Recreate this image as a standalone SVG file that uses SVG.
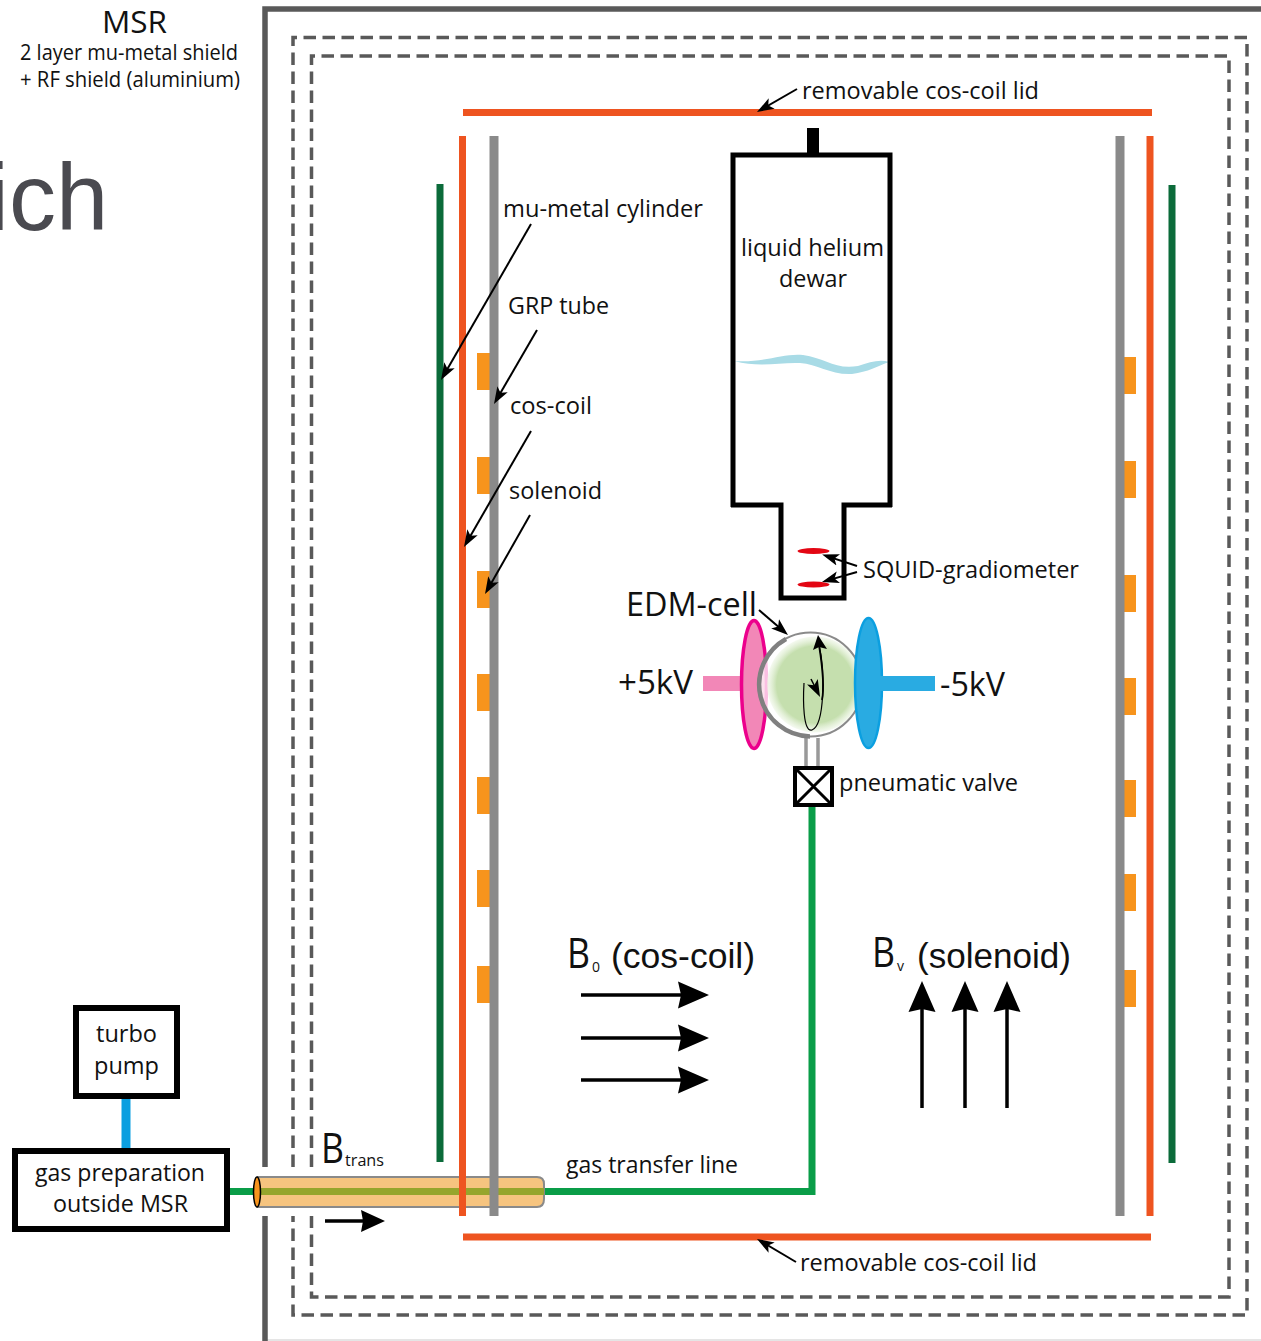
<svg xmlns="http://www.w3.org/2000/svg" width="1261" height="1341" viewBox="0 0 1261 1341">
<defs>
<marker id="ah" markerUnits="userSpaceOnUse" markerWidth="18" markerHeight="14" refX="12" refY="7" orient="auto"><path d="M0 1L17 7L0 13L4 7Z" fill="#000"/></marker>
<marker id="big" markerUnits="userSpaceOnUse" markerWidth="32" markerHeight="28" refX="16" refY="14" orient="auto"><path d="M0 0.500L31 14L0 27.500L3 14Z" fill="#000"/></marker>
<marker id="med" markerUnits="userSpaceOnUse" markerWidth="26" markerHeight="24" refX="12" refY="12" orient="auto"><path d="M0 1L24 12L0 23L2 12Z" fill="#000"/></marker>
<radialGradient id="cell"><stop offset="0" stop-color="#c5dfae"/><stop offset="0.8" stop-color="#c5dfae"/><stop offset="1" stop-color="#eef6e6" stop-opacity="0.6"/></radialGradient>
</defs>
<style>
text{font-family:"Open Sans","Noto Sans","Liberation Sans",sans-serif;fill:#111}
.d{fill:none;stroke:#595959;stroke-width:3.5;stroke-dasharray:12.500 6.500}
.o{stroke:#ee5420;stroke-width:7;fill:none}
.g{stroke:#8a8a8a;stroke-width:9;fill:none}
.dg{stroke:#0b6b3a;stroke-width:7;fill:none}
.c{fill:#f7941d}
.l{stroke:#000;stroke-width:2;fill:none;marker-end:url(#ah)}
.b{stroke:#000;stroke-width:3.500;fill:none;marker-end:url(#big)}
.box{fill:#fff;stroke:#000;stroke-width:6}
.m{font-size:24.500px}
.s{font-size:21px}
.lg{font-size:35px;font-family:"Liberation Sans",sans-serif}
.h{font-size:32px}
</style>
<rect width="1261" height="1341" fill="#fff"/>
<text x="-12" y="230" style="font-family:'Liberation Sans',sans-serif;font-size:94px;fill:#4a4a50">ich</text>
<g id="msr-shield">
<path d="M265 1340H1261" stroke="#ddd" stroke-width="1.500"/>
<path d="M1261 9H265V1167M265 1216V1341" fill="none" stroke="#595959" stroke-width="5.500"/>
<path class="d" d="M293 1167V37.500H1247V1315H293V1216"/>
<path class="d" d="M311.500 1167V56H1229V1297H311.500V1216"/>
</g>
<g id="coils">
<path class="dg" d="M440 184V1162M1172 185V1163"/>
<g class="c"><rect x="477" y="353" width="13" height="37"/><rect x="477" y="457" width="13" height="37"/><rect x="477" y="571" width="13" height="37"/><rect x="477" y="674" width="13" height="37"/><rect x="477" y="777" width="13" height="37"/><rect x="477" y="870" width="13" height="37"/><rect x="477" y="966" width="13" height="37"/>
<rect x="1124" y="357" width="12" height="37"/><rect x="1124" y="461" width="12" height="37"/><rect x="1124" y="575" width="12" height="37"/><rect x="1124" y="678" width="12" height="37"/><rect x="1124" y="780" width="12" height="37"/><rect x="1124" y="874" width="12" height="37"/><rect x="1124" y="970" width="12" height="37"/></g>
<path class="o" d="M463 112.500H1152M463 1237H1151"/>
</g>
<g id="transfer-line">
<path d="M229 1191.500H812V805" fill="none" stroke="#0a9d48" stroke-width="7"/>
<path d="M258 1177H537Q544 1177 544 1184V1199Q544 1207 537 1207H258Z" fill="#f6c47f" stroke="#8a8a8a" stroke-width="2"/>
<path d="M258 1191.500H544" stroke="#96a52c" stroke-width="7"/>
<ellipse cx="257" cy="1192" rx="3.500" ry="15" fill="#f7941d" stroke="#000" stroke-width="1.500"/>
<path class="o" d="M462.500 136V1216M1150 136V1216"/>
<path class="g" d="M494 136V1216M1120 136V1216"/>
</g>
<g id="turbo-pump"><path d="M126 1096V1150" stroke="#0b9fe0" stroke-width="9"/><rect class="box" x="76" y="1008" width="101" height="88"/><text class="m" x="96" y="1042" textLength="61" lengthAdjust="spacingAndGlyphs">turbo</text><text class="m" x="94" y="1074" textLength="65" lengthAdjust="spacingAndGlyphs">pump</text></g>
<g id="gas-prep"><rect class="box" x="15" y="1151" width="212" height="78"/><text class="m" x="35" y="1181" textLength="170" lengthAdjust="spacingAndGlyphs">gas preparation</text><text class="m" x="53" y="1212" textLength="135" lengthAdjust="spacingAndGlyphs">outside MSR</text></g>
<g id="dewar">
<path d="M813 128V155" stroke="#000" stroke-width="12"/>
<path d="M734 361C765 363 783 353 803 355C825 358 835 370 858 366C870 362 880 359 889 362C878 366 868 372 852 374C830 375 818 364 800 363C780 362 760 368 734 361Z" fill="#a8dbe6"/>
<path d="M733 507V155H890V507M731 505H781V598H844V505H892" fill="none" stroke="#000" stroke-width="5"/>
<text class="m" x="741" y="256" textLength="143" lengthAdjust="spacingAndGlyphs">liquid helium</text><text class="m" x="779" y="287" textLength="68" lengthAdjust="spacingAndGlyphs">dewar</text>
</g>
<g id="squid">
<ellipse cx="813.500" cy="551" rx="16" ry="3" fill="#e30613"/><ellipse cx="813.500" cy="584.500" rx="16" ry="3" fill="#e30613"/>
<text class="m" x="863" y="578" textLength="216" lengthAdjust="spacingAndGlyphs">SQUID-gradiometer</text>
</g>
<g id="edm-cell">
<path d="M806 738V766M818 738V766" stroke="#999" stroke-width="3.500" fill="none"/>
<path d="M703 683.500H743" stroke="#f287b7" stroke-width="15"/>
<ellipse cx="754" cy="684.500" rx="12.500" ry="64" fill="#f287b7" stroke="#ec008c" stroke-width="3.500"/>
<circle cx="810.500" cy="684.500" r="52" fill="#fff" fill-opacity="0.75"/>
<circle cx="815" cy="684.500" r="48" fill="url(#cell)"/>
<circle cx="810.500" cy="684.500" r="52" fill="none" stroke="#8a8a8a" stroke-width="2"/>
<path d="M786 639A52 52 0 0 0 810 736.500" fill="none" stroke="#808080" stroke-width="4.500"/>
<ellipse cx="868.500" cy="683" rx="13.500" ry="65" fill="#29abe2" stroke="#0b9fe0" stroke-width="2.500"/>
<path d="M880 683.500H935" stroke="#29abe2" stroke-width="15"/>
<path d="M819 645C825 670 825 725 812 730C803 733 803 700 804 683" fill="none" stroke="#000" stroke-width="1.200"/>
<path d="M819 645C823 670 824 690 822 700" fill="none" stroke="#000" stroke-width="1.800"/>
<path d="M818 635L813 650L819 647L827 649Z"/><path d="M811 679L817.800 692.500" stroke="#000" stroke-width="1.500" marker-end="url(#ah)" fill="none"/>
<text class="h" x="626" y="616" textLength="131" lengthAdjust="spacingAndGlyphs">EDM-cell</text>
<text class="h" x="618" y="694" textLength="75" lengthAdjust="spacingAndGlyphs">+5kV</text>
<text class="h" x="940" y="696" textLength="65" lengthAdjust="spacingAndGlyphs">-5kV</text>
</g>
<g id="valve"><rect x="795" y="768" width="37" height="37" fill="#fff" stroke="#000" stroke-width="4"/><path d="M796 769L831 804M831 769L796 804" stroke="#000" stroke-width="3"/><text class="m" x="839" y="791" textLength="179" lengthAdjust="spacingAndGlyphs">pneumatic valve</text></g>
<g id="labels">
<text class="m" x="802" y="99" textLength="237" lengthAdjust="spacingAndGlyphs">removable cos-coil lid</text>
<text class="m" x="800" y="1271" textLength="237" lengthAdjust="spacingAndGlyphs">removable cos-coil lid</text>
<text class="m" x="503" y="217" textLength="200" lengthAdjust="spacingAndGlyphs">mu-metal cylinder</text>
<text class="m" x="508" y="314" textLength="101" lengthAdjust="spacingAndGlyphs">GRP tube</text>
<text class="m" x="510" y="414" textLength="82" lengthAdjust="spacingAndGlyphs">cos-coil</text>
<text class="m" x="509" y="499" textLength="93" lengthAdjust="spacingAndGlyphs">solenoid</text>
<text class="m" x="566" y="1173" textLength="172" lengthAdjust="spacingAndGlyphs">gas transfer line</text>
<text x="102" y="33" textLength="65" lengthAdjust="spacingAndGlyphs" style="font-size:31px">MSR</text>
<text class="s" x="20" y="60" textLength="218" lengthAdjust="spacingAndGlyphs">2 layer mu-metal shield</text>
<text class="s" x="20" y="87" textLength="220" lengthAdjust="spacingAndGlyphs">+ RF shield (aluminium)</text>
<text x="567" y="968" textLength="23" lengthAdjust="spacingAndGlyphs" style="font-size:42px">B</text>
<text x="592" y="972" style="font-size:14px">0</text>
<text class="lg" x="611" y="968" textLength="144" lengthAdjust="spacingAndGlyphs">(cos-coil)</text>
<text x="872" y="967" textLength="23" lengthAdjust="spacingAndGlyphs" style="font-size:42px">B</text>
<text x="897" y="971" style="font-size:14px">v</text>
<text class="lg" x="917" y="968" textLength="154" lengthAdjust="spacingAndGlyphs">(solenoid)</text>
<text x="321" y="1163" textLength="23" lengthAdjust="spacingAndGlyphs" style="font-size:42px">B</text>
<text x="345" y="1166" textLength="39" lengthAdjust="spacingAndGlyphs" style="font-size:16px">trans</text>
</g>
<g id="connectors">
<path class="l" d="M797 89L761.300 109.500"/>
<path class="l" d="M796 1262L761.300 1241.500"/>
<path class="l" d="M531 224L443.500 375.700"/>
<path class="l" d="M537 330L496.500 399.700"/>
<path class="l" d="M531 431L466.500 542.700"/>
<path class="l" d="M530 515L487.500 589.700"/>
<path class="l" d="M857 566L826.900 556.100"/>
<path class="l" d="M857 572L826.800 580.600"/>
<path class="l" d="M759 610L784.200 631.700"/>
<path class="b" d="M581 995H694"/><path class="b" d="M581 1038H694"/><path class="b" d="M581 1080H694"/>
<path class="b" d="M922 1108V996"/><path class="b" d="M965 1108V996"/><path class="b" d="M1007 1108V996"/>
<path d="M325 1221H373" stroke="#000" stroke-width="3.500" fill="none" marker-end="url(#med)"/>
</g>
</svg>
